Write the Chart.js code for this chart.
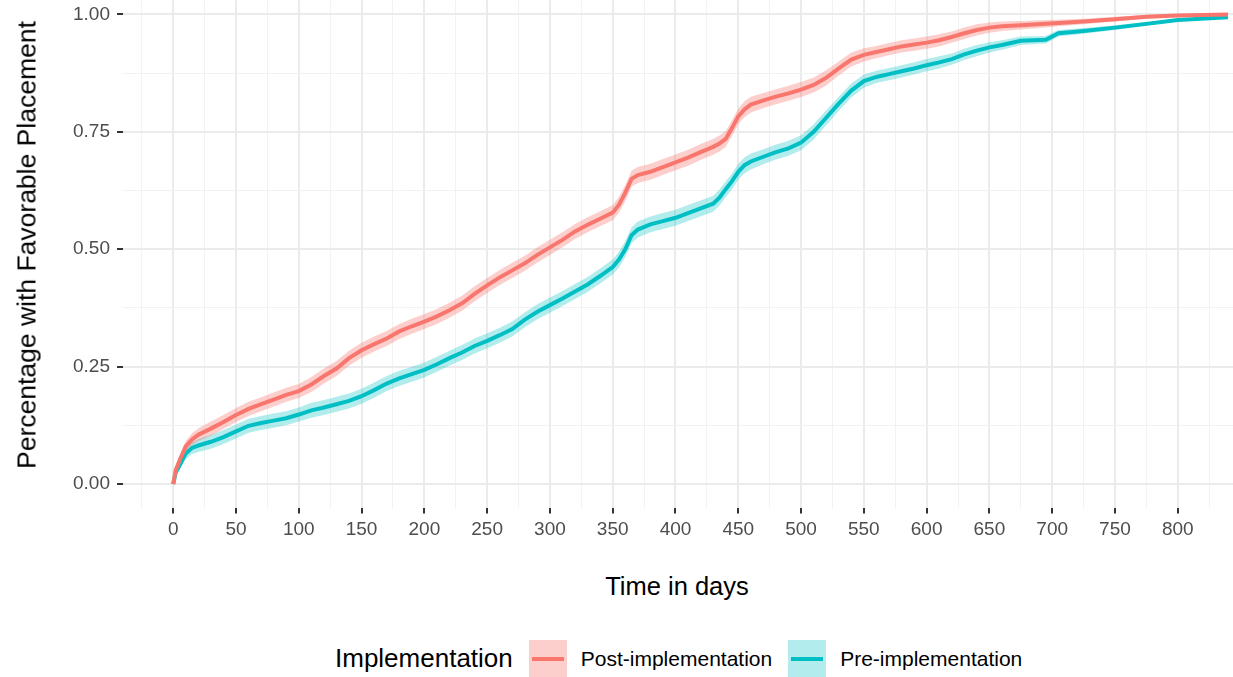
<!DOCTYPE html>
<html>
<head>
<meta charset="utf-8">
<script src="https://cdn.jsdelivr.net/npm/chart.js@4"></script>
<style>
  body { margin: 0; background: #fff; width: 1233px; height: 677px; overflow: hidden; position: relative; font-family: "Liberation Sans", Arial, sans-serif; }
  #wrap { position: absolute; left: 0; top: -30px; width: 1233px; height: 600px; }
  .ytitle { position: absolute; left: 27px; top: 245px; transform: translate(-50%, -50%) rotate(-90deg); font-size: 26.5px; white-space: nowrap; color: #000; }
  .xtitle { position: absolute; left: 677px; top: 586px; transform: translate(-50%, -50%); font-size: 25.5px; color: #000; }
  .legend { position: absolute; left: 335px; top: 640px; height: 37px; display: flex; align-items: center; color: #000; }
  .legend .ttl { font-size: 26px; margin-right: 16px; }
  .legend .key { width: 38px; height: 37px; position: relative; margin-right: 14px; }
  .legend .key span { position: absolute; left: 3px; right: 3px; top: 17px; height: 4px; }
  .legend .lbl { font-size: 21px; margin-right: 16px; }
</style>
</head>
<body>
<div id="wrap"><canvas id="myChart" width="1233" height="600"></canvas></div>
<div class="ytitle">Percentage with Favorable Placement</div>
<div class="xtitle">Time in days</div>
<div class="legend">
  <div class="ttl">Implementation</div>
  <div class="key" style="background: rgba(248,118,109,0.35)"><span style="background:#F8766D"></span></div>
  <div class="lbl">Post-implementation</div>
  <div class="key" style="background: rgba(0,191,196,0.3)"><span style="background:#00BFC4"></span></div>
  <div class="lbl">Pre-implementation</div>
</div>
<script>
// time points (days)
const days = [0, 2, 5, 10, 15, 20, 30, 40, 50, 60, 70, 80, 90, 100, 110, 120, 130, 140, 150, 160,
  170, 180, 190, 200, 210, 220, 230, 240, 250, 260, 270, 280, 290, 300, 310, 320, 330, 340, 350,
  355, 360, 365, 370, 380, 390, 400, 410, 420, 430, 435, 440, 445, 450, 455, 460, 470, 480, 490,
  500, 510, 520, 530, 540, 550, 560, 570, 580, 590, 600, 610, 620, 630, 640, 650, 660, 675, 695,
  705, 725, 750, 775, 800, 840];

const postImpl = [0, 0.03, 0.05, 0.08, 0.095, 0.105, 0.118, 0.132, 0.147, 0.16, 0.17, 0.18, 0.19, 0.198,
  0.212, 0.23, 0.246, 0.268, 0.285, 0.298, 0.31, 0.325, 0.336, 0.346, 0.357, 0.37, 0.385, 0.405, 0.423,
  0.44, 0.455, 0.47, 0.488, 0.504, 0.52, 0.538, 0.552, 0.565, 0.578, 0.595, 0.62, 0.65, 0.658, 0.665,
  0.675, 0.685, 0.695, 0.707, 0.718, 0.725, 0.735, 0.758, 0.783, 0.798, 0.808, 0.817, 0.825, 0.832,
  0.84, 0.85, 0.865, 0.885, 0.904, 0.914, 0.92, 0.926, 0.932, 0.936, 0.94, 0.945, 0.952, 0.96, 0.967,
  0.972, 0.975, 0.977, 0.98, 0.982, 0.985, 0.99, 0.995, 0.998, 1.0];

const preImpl = [0, 0.025, 0.04, 0.065, 0.077, 0.082, 0.09, 0.1, 0.112, 0.124, 0.13, 0.135, 0.14, 0.148,
  0.157, 0.163, 0.17, 0.177, 0.187, 0.2, 0.214, 0.225, 0.234, 0.243, 0.255, 0.268, 0.28, 0.294, 0.305,
  0.317, 0.33, 0.35, 0.367, 0.381, 0.395, 0.41, 0.425, 0.443, 0.462, 0.478, 0.5, 0.53, 0.542, 0.553,
  0.56, 0.567, 0.577, 0.587, 0.597, 0.61, 0.628, 0.645, 0.665, 0.679, 0.687, 0.697, 0.707, 0.715,
  0.727, 0.75, 0.78, 0.81, 0.838, 0.858, 0.867, 0.873, 0.879, 0.885, 0.892, 0.898, 0.905, 0.915, 0.923,
  0.93, 0.935, 0.944, 0.946, 0.96, 0.965, 0.972, 0.98, 0.988, 0.994];

// half width of the confidence band at each time point
const ciHalf = [0.005, 0.008, 0.01, 0.012, 0.013, 0.014, 0.015, 0.015, 0.015, 0.015, 0.015, 0.015, 0.015,
  0.015, 0.016, 0.016, 0.016, 0.016, 0.016, 0.016, 0.016, 0.016, 0.016, 0.016, 0.016, 0.016, 0.016, 0.016,
  0.016, 0.016, 0.016, 0.016, 0.016, 0.016, 0.016, 0.016, 0.016, 0.016, 0.016, 0.017, 0.017, 0.017, 0.017,
  0.017, 0.017, 0.017, 0.017, 0.017, 0.017, 0.017, 0.017, 0.017, 0.017, 0.017, 0.017, 0.016, 0.016, 0.016,
  0.016, 0.016, 0.016, 0.015, 0.015, 0.014, 0.013, 0.013, 0.013, 0.013, 0.013, 0.013, 0.012, 0.012, 0.012,
  0.011, 0.01, 0.009, 0.008, 0.007, 0.006, 0.005, 0.004, 0.003, 0.002];

const xMajor = [0, 50, 100, 150, 200, 250, 300, 350, 400, 450, 500, 550, 600, 650, 700, 750, 800];
const yMajor = [0, 0.25, 0.5, 0.75, 1];

const RED = '#F8766D';
const TEAL = '#00BFC4';

const pts = (vals, off) => days.map((d, i) => ({ x: d, y: vals[i] + (off ? off * ciHalf[i] : 0) }));

const isMajorX = v => xMajor.includes(v);
const isMajorY = v => yMajor.some(m => Math.abs(m - v) < 1e-6);

var ctx = document.getElementById('myChart').getContext('2d');

var myChart = new Chart(ctx, {
  type: 'line',
  data: {
    datasets: [
      { label: 'post-upper', data: pts(postImpl, 1), borderWidth: 0, pointRadius: 0,
        backgroundColor: 'rgba(248,118,109,0.35)', fill: '+1', order: 3 },
      { label: 'post-lower', data: pts(postImpl, -1), borderWidth: 0, pointRadius: 0, fill: false, order: 3 },
      { label: 'pre-upper', data: pts(preImpl, 1), borderWidth: 0, pointRadius: 0,
        backgroundColor: 'rgba(0,191,196,0.3)', fill: '+1', order: 3 },
      { label: 'pre-lower', data: pts(preImpl, -1), borderWidth: 0, pointRadius: 0, fill: false, order: 3 },
      { label: 'Post-implementation', data: pts(postImpl), borderColor: RED, borderWidth: 4,
        pointRadius: 0, fill: false, order: 1 },
      { label: 'Pre-implementation', data: pts(preImpl), borderColor: TEAL, borderWidth: 4,
        pointRadius: 0, fill: false, order: 1 },
    ],
  },
  options: {
    responsive: false,
    animation: false,
    devicePixelRatio: 1,
    layout: { padding: { top: 21, left: 0, right: 0, bottom: 0 } },
    plugins: { legend: { display: false }, tooltip: { enabled: false } },
    scales: {
      x: {
        type: 'linear',
        min: -40,
        max: 844,
        afterBuildTicks: axis => {
          const t = [];
          for (let v = -25; v <= 825; v += 25) t.push({ value: v });
          axis.ticks = t;
        },
        afterFit: axis => { axis.height = 62.5; },
        border: { display: false },
        grid: {
          color: c => isMajorX(c.tick && c.tick.value) ? '#EBEBEB' : '#F2F2F2',
          lineWidth: c => isMajorX(c.tick && c.tick.value) ? 2 : 1,
          tickColor: c => isMajorX(c.tick && c.tick.value) ? '#333333' : 'rgba(0,0,0,0)',
          tickWidth: 2,
          tickLength: 6,
        },
        ticks: {
          autoSkip: false,
          maxRotation: 0,
          padding: 5,
          color: '#4D4D4D',
          font: { family: 'Liberation Sans', size: 19 },
          callback: v => isMajorX(v) ? String(v) : '',
        },
      },
      y: {
        type: 'linear',
        min: -0.05,
        max: 1.05,
        afterBuildTicks: axis => {
          const t = [];
          for (let v = 0; v <= 1.0001; v += 0.125) t.push({ value: v });
          axis.ticks = t;
        },
        afterFit: axis => { axis.width = 123; },
        border: { display: false },
        grid: {
          color: c => isMajorY(c.tick && c.tick.value) ? '#EBEBEB' : '#F2F2F2',
          lineWidth: c => isMajorY(c.tick && c.tick.value) ? 2 : 1,
          tickColor: c => isMajorY(c.tick && c.tick.value) ? '#333333' : 'rgba(0,0,0,0)',
          tickWidth: 2,
          tickLength: 6,
        },
        ticks: {
          autoSkip: false,
          padding: 7,
          color: '#4D4D4D',
          font: { family: 'Liberation Sans', size: 19 },
          callback: v => isMajorY(v) ? v.toFixed(2) : '',
        },
      },
    },
  },
});
</script>
</body>
</html>
